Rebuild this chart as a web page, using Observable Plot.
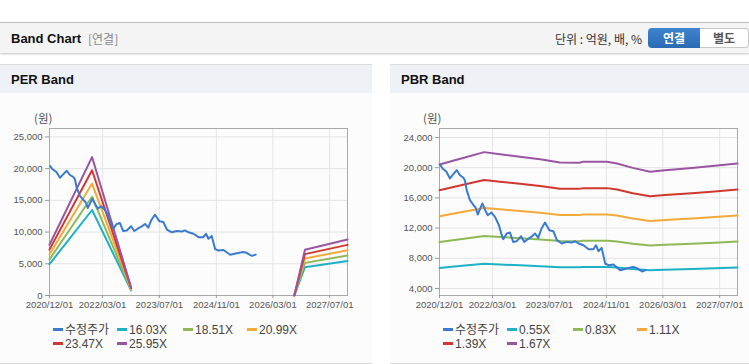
<!DOCTYPE html>
<html>
<head>
<meta charset="utf-8">
<script src="https://cdn.jsdelivr.net/npm/d3@7"></script>
<script src="https://cdn.jsdelivr.net/npm/@observablehq/plot@0.6"></script>
<style>
  html, body { margin: 0; padding: 0; background: #fff; }
  body { width: 749px; height: 364px; position: relative; overflow: hidden;
         font-family: "Liberation Sans", "Noto Sans CJK KR", sans-serif; color: #333; }
  .abs { position: absolute; }
  #hdr { left: 0; top: 22px; width: 749px; height: 30px; background: #f4f4f4;
         border-top: 1px solid #bdbdbd; box-shadow: 0 1px 2px rgba(0,0,0,0.25); }
  #hdrTitle { left: 11px; top: 8px; font-size: 13px; font-weight: bold; color: #111; }
  #hdrSub { left: 88px; top: 9px; font-size: 12px; color: #888; font-family: "Noto Sans CJK KR", sans-serif; line-height: 14px; }
  #unit { right: 107px; top: 8px; font-size: 12px; color: #333; font-family: "Noto Sans CJK KR", sans-serif; line-height: 16px; }
  #btn1 { left: 648px; top: 5px; width: 52px; height: 20px; background: linear-gradient(#3f84cf, #2a6bb3);
          border-radius: 4px 0 0 4px; color: #fff; font-weight: bold; font-size: 12px; text-align: center; line-height: 20px;
          font-family: "Noto Sans CJK KR", sans-serif; }
  #btn2 { left: 700px; top: 5px; width: 48px; height: 18px; background: #fff; border: 1px solid #c8c8c8; border-left: none;
          border-radius: 0 4px 4px 0; color: #555; font-weight: bold; font-size: 12px; text-align: center; line-height: 18px;
          font-family: "Noto Sans CJK KR", sans-serif; }
  .panel { top: 64px; height: 298px; background: #fcfcfc; border-top: 1px solid #dcdcdc; border-bottom: 1px solid #d8d8d8; }
  .phead { left: 0; top: 0; right: 0; height: 28px; background: #eef2f7; }
  .ptitle { left: 11px; top: 7px; font-size: 13px; font-weight: bold; color: #111; }
  .unitlbl { font-size: 11.5px; color: #555; font-family: "Noto Sans CJK KR", sans-serif; line-height: 14px; }
  .leg { font-size: 12px; line-height: 14px; height: 14px; color: #444; white-space: nowrap; }
  .leg .sw { display: inline-block; width: 10px; height: 3px; vertical-align: middle; margin-right: 2px; margin-top: -2px; }
</style>
</head>
<body>
<div id="hdr" class="abs">
  <div id="hdrTitle" class="abs">Band Chart</div>
  <div id="hdrSub" class="abs">[연결]</div>
  <div id="unit" class="abs">단위 : 억원, 배, %</div>
  <div id="btn1" class="abs">연결</div>
  <div id="btn2" class="abs">별도</div>
</div>

<div id="p1" class="abs panel" style="left:0;width:372px;">
  <div class="abs phead"></div>
  <div class="abs ptitle">PER Band</div>
</div>
<div id="p2" class="abs panel" style="left:390px;width:359px;">
  <div class="abs phead"></div>
  <div class="abs ptitle">PBR Band</div>
</div>

<div class="abs unitlbl" style="left:34px;top:111px;">(원)</div>
<div class="abs unitlbl" style="left:423px;top:111px;">(원)</div>

<div id="c1" class="abs" style="left:0;top:100px;"></div>
<div id="c2" class="abs" style="left:390px;top:100px;"></div>
<div id="l1" class="abs" style="left:0;top:323px;width:372px;height:30px;"></div>
<div id="l2" class="abs" style="left:390px;top:323px;width:359px;height:30px;"></div>

<script>
// ---------- data ----------
const xTickLabels = ["2020/12/01", "2022/03/01", "2023/07/01", "2024/11/01", "2026/03/01", "2027/07/01"];
const perYTicks = [0, 5000, 10000, 15000, 20000, 25000];
const pbrYTicks = [4000, 8000, 12000, 16000, 20000, 24000];

const seriesNames = { per: ["수정주가", "16.03X", "18.51X", "20.99X", "23.47X", "25.95X"],
                      pbr: ["수정주가", "0.55X", "0.83X", "1.11X", "1.39X", "1.67X"] };
const seriesColors = ["#3a7bd0", "#1cb1c6", "#8fb955", "#f4a93b", "#d1372f", "#9a55a2"];

// adjusted share price (수정주가)
const priceDates = ["2020-12-07","2020-12-27","2021-01-28","2021-03-01","2021-03-28","2021-04-28","2021-05-25",
  "2021-06-22","2021-07-07","2021-07-22","2021-08-19","2021-09-19","2021-10-07","2021-10-25","2021-11-16",
  "2021-12-04","2021-12-28","2022-01-19","2022-02-18","2022-03-22","2022-04-25","2022-05-19","2022-06-01",
  "2022-07-01","2022-07-28","2022-08-25","2022-09-25","2022-11-01","2022-11-28","2023-01-04","2023-02-01",
  "2023-03-01","2023-03-28","2023-04-25","2023-05-25","2023-07-01","2023-08-04","2023-09-04","2023-10-16",
  "2023-11-28","2024-01-10","2024-02-07","2024-03-07","2024-04-19","2024-06-01","2024-07-13","2024-08-04",
  "2024-08-25","2024-09-22","2024-10-22","2024-11-19","2025-01-01","2025-02-28","2025-04-25","2025-06-19",
  "2025-07-19","2025-08-16","2025-09-04","2025-10-04"];
const priceValues = [20400,19900,19500,18570,19100,19670,19000,
  18700,18340,17020,15700,15030,14700,13800,14600,
  15260,14370,13710,14070,13480,12380,11060,10530,
  11280,11420,10170,10260,10930,10170,10620,10900,
  11280,10700,11950,12740,11720,11590,10400,9960,
  10170,10090,10260,9960,9730,9200,9200,9730,
  8940,9380,7310,7090,7180,6420,6650,6860,
  6730,6420,6250,6450];

// PER band (NaN = no data, gap)
const perDates = ["2020-12-01","2021-12-01","2022-11-01","2024-06-01","2026-09-01","2026-12-01","2027-12-01"];
const per1603 = [4937, 13481, 802, NaN, 0, 4456, 5450];
const per1851 = [5701, 15567, 926, NaN, 0, 5146, 6293];
const per2099 = [6465, 17652, 1050, NaN, 0, 5835, 7137];
const per2347 = [7229, 19738, 1174, NaN, 0, 6525, 7980];
const per2595 = [7993, 21823, 1298, NaN, 0, 7214, 8823];

// PBR band
const pbrDates = ["2020-12-01","2021-06-13","2021-12-19","2022-05-04","2022-10-22","2023-04-13","2023-10-01",
  "2024-03-15","2024-04-15","2024-11-07","2025-02-01","2025-06-16","2025-11-10","2026-03-19","2026-11-04",
  "2027-05-19","2027-12-01"];
const pbr055 = [6727,7002,7266,7178,7068,6952,6809,6804,6842,6842,6771,6578,6413,6479,6578,6666,6771];
const pbr083 = [10151,10566,10964,10832,10666,10491,10275,10267,10325,10325,10217,9927,9678,9777,9927,10060,10217];
const pbr111 = [13575,14130,14663,14486,14264,14030,13742,13731,13808,13808,13664,13276,12943,13076,13276,13453,13664];
const pbr139 = [17000,17695,18362,18140,17862,17570,17208,17194,17292,17292,17111,16624,16207,16374,16624,16847,17111];
const pbr167 = [20424,21259,22061,21794,21460,21109,20675,20658,20775,20775,20558,19973,19472,19673,19973,20240,20558];

// ---------- build ----------
const parse = s => new Date(s + "T00:00:00Z");
const xTicks = xTickLabels.map(s => parse(s.replace(/\//g, "-")));
const xDomain = [parse("2020-12-01"), parse("2027-12-01")];
const toRows = (dates, vals) => dates.map((d, i) => ({ date: parse(d), value: vals[i] }));
const priceRows = toRows(priceDates, priceValues);

function chart(bands, bandDates, yDomain, yTicks, width, marginRight) {
  const marks = [
    Plot.gridX(xTicks, { stroke: "#e4e4e4", strokeOpacity: 1 }),
    Plot.gridY(yTicks, { stroke: "#e4e4e4", strokeOpacity: 1 }),
    Plot.frame({ stroke: "#a9a9a9" }),
    Plot.axisX(xTicks, { tickSize: 3, tickPadding: 3, stroke: "#999", fill: "#555",
      tickFormat: d3.utcFormat("%Y/%m/%d") }),
    Plot.axisY(yTicks, { tickSize: 4, tickPadding: 3, stroke: "#999", fill: "#555",
      tickFormat: d3.format(",") })
  ];
  bands.forEach((vals, i) => {
    marks.push(Plot.line(toRows(bandDates, vals), { x: "date", y: "value", stroke: seriesColors[i + 1], strokeWidth: 2 }));
  });
  marks.push(Plot.line(priceRows, { x: "date", y: "value", stroke: seriesColors[0], strokeWidth: 2 }));
  return Plot.plot({
    width, height: 220, marginLeft: 49, marginRight, marginTop: 28, marginBottom: 25,
    style: { fontSize: "9.5px", fontFamily: "Liberation Sans, sans-serif", background: "transparent", overflow: "visible" },
    x: { type: "utc", domain: xDomain, label: null },
    y: { domain: yDomain, label: null },
    marks
  });
}

document.getElementById("c1").appendChild(
  chart([per1603, per1851, per2099, per2347, per2595], perDates, [0, 26330], perYTicks, 372, 25));
document.getElementById("c2").appendChild(
  chart([pbr055, pbr083, pbr111, pbr139, pbr167], pbrDates, [3070, 25190], pbrYTicks, 359, 12));

function legend(el, names) {
  const cols = [53, 117, 183, 247];
  names.forEach((n, i) => {
    const d = document.createElement("div");
    d.className = "abs leg";
    d.style.left = cols[i % 4] + "px";
    d.style.top = (i < 4 ? 0 : 14) + "px";
    d.innerHTML = `<span class="sw" style="background:${seriesColors[i]}"></span>${n}`;
    el.appendChild(d);
  });
}
legend(document.getElementById("l1"), seriesNames.per);
legend(document.getElementById("l2"), seriesNames.pbr);
</script>
</body>
</html>
